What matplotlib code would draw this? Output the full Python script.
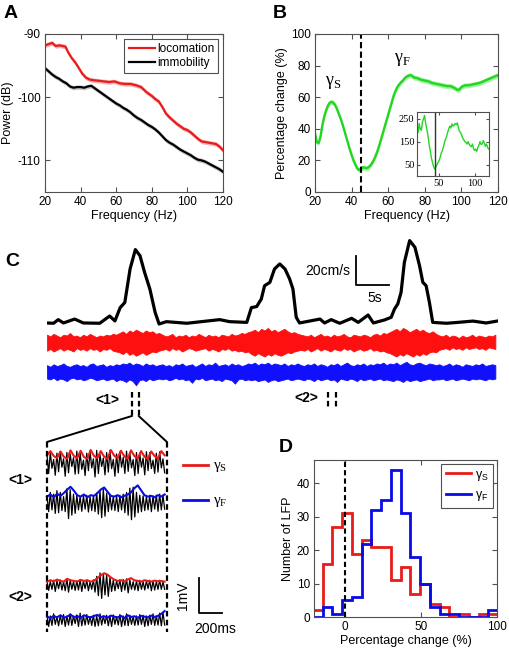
import numpy as np
import matplotlib
matplotlib.use('Agg')
import matplotlib.pyplot as plt
from matplotlib.patches import ConnectionPatch
from matplotlib.lines import Line2D

plt.rcParams['font.family'] = ['Liberation Sans', 'DejaVu Sans']
plt.rcParams['axes.unicode_minus'] = False

# ---------------- data ----------------
# Panel A
freqA_loco = [20, 22, 24, 26, 28, 30, 31.5, 33, 35, 37, 39, 41, 43, 45, 47, 50, 53, 56, 59, 62, 65, 68, 71, 74,
              77, 80, 82, 84, 86, 88, 90, 92, 94, 96, 98, 100, 102, 104, 106, 108, 110, 112, 114, 116, 118, 120]
loco_db = [-91.8, -91.6, -91.4, -91.9, -91.8, -91.9, -92.0, -92.9, -93.8, -94.5, -95.4, -96.3, -96.9, -97.2,
           -97.3, -97.4, -97.5, -97.6, -97.5, -97.8, -97.9, -97.9, -98.1, -98.4, -99.2, -99.8, -100.3, -100.7,
           -101.6, -102.6, -103.2, -103.7, -104.2, -104.6, -105.0, -105.2, -105.6, -106.1, -106.6, -107.0,
           -107.1, -107.2, -107.3, -107.4, -107.8, -108.4]
freqA_immo = [20, 22, 24, 26, 28, 30, 32, 34, 36, 38, 40, 42, 44, 46, 48, 50, 52, 54, 56, 58, 60, 62, 64, 66, 68,
              70, 72, 74, 76, 78, 80, 82, 84, 86, 88, 90, 92, 94, 96, 98, 100, 102, 104, 106, 108, 110, 112, 114,
              116, 118, 120]
immo_db = [-95.4, -95.9, -96.4, -96.8, -97.1, -97.5, -97.8, -98.3, -98.5, -98.4, -98.4, -98.5, -98.3, -98.2,
           -98.6, -99.0, -99.4, -99.8, -100.2, -100.6, -101.0, -101.3, -101.7, -102.0, -102.4, -102.9, -103.3,
           -103.6, -104.0, -104.4, -104.7, -105.1, -105.6, -106.2, -106.8, -107.2, -107.5, -107.9, -108.3,
           -108.6, -108.9, -109.2, -109.6, -109.9, -110.0, -110.2, -110.5, -110.8, -111.1, -111.4, -111.8]
sem_db = 0.35

# Panel B
freqB = [20, 21, 22, 23, 24, 25, 26, 27, 28, 29, 30, 31, 32, 33, 34, 35, 36, 37, 38, 39, 40, 41, 42, 43, 44, 45,
         46, 47, 48, 49, 50, 51, 52, 53, 54, 55, 56, 57, 58, 59, 60, 61, 62, 63, 64, 65, 66, 67, 68, 69, 70, 71,
         72, 73, 74, 76, 78, 80, 82, 84, 86, 88, 90, 92, 94, 96, 98, 99, 100, 102, 104, 106, 108, 110, 112, 114,
         116, 118, 120]
pctB = [37, 31.5, 31, 35, 42, 47.5, 51.5, 54.5, 56.5, 57, 56.5, 55, 52.5, 49.5, 46.5, 43, 39, 35, 31, 27, 23.5,
        20, 17.5, 15, 14, 14.5, 15.5, 15.5, 15, 15.5, 16.5, 18, 20, 22.5, 25.5, 29, 33, 37, 41, 45, 49, 53, 57,
        61, 64, 66.5, 68, 69.5, 70.5, 72, 73, 73.5, 74, 73.5, 72.5, 72, 71, 70.5, 70, 69, 68.5, 68, 67.5, 67, 67,
        66, 64.5, 65, 66.5, 67.5, 67.5, 68, 68.5, 69, 70, 71, 72, 73, 74]
sem_pct = 1.6
freq_inset = [20, 21.5, 23, 24.5, 26, 27.5, 29, 30.5, 31.5, 33, 34.5, 35.5, 37, 38.5, 40, 41.5, 43, 44.5, 46,
              47.5, 49, 50.5, 52, 53.5, 55, 56.5, 58, 59.5, 61, 62.5, 64, 65.5, 67, 68.5, 70, 71.5, 73, 74.5, 76,
              77.5, 79, 80.5, 82, 83.5, 85, 86.5, 88, 89.5, 91, 92.5, 94, 95.5, 97, 98.5, 100, 101.5, 103, 104.5,
              106, 107.5, 109, 110.5, 112, 113.5, 115, 116.5, 118, 119.5]
val_inset = [210, 190, 230, 205, 200, 235, 250, 265, 240, 215, 190, 170, 135, 110, 78, 60, 42, 30, 38, 48, 58,
             66, 80, 98, 110, 125, 145, 160, 172, 190, 205, 218, 210, 228, 218, 222, 230, 225, 232, 212, 195,
             190, 180, 165, 158, 150, 148, 140, 150, 138, 132, 128, 140, 120, 112, 118, 108, 125, 135, 150, 138,
             140, 155, 145, 130, 140, 125, 118]
boundary_hz = 45

# Panel C : running speed (cm/s) vs time (s)
t_speed = [0, 1.0, 1.7, 2.5, 4.2, 5.5, 8.0, 9.5, 10.3, 11.1, 11.8, 12.6, 13.4, 14.1, 14.8, 15.6, 16.4, 17.0,
           18.1, 21.2, 26.2, 27.7, 30.3, 31.0, 31.8, 32.5, 33.0, 33.8, 34.5, 35.3, 36.1, 36.8, 37.3, 37.8, 38.3,
           41.4, 42.1, 43.1, 44.4, 46.2, 47.2, 48.7, 49.5, 51.2, 52.2, 52.7, 53.2, 53.7, 54.2, 55.0, 55.8, 56.5,
           57.0, 57.5, 58.0, 58.5, 60.6, 62.3, 64.6, 66.6, 68.4]
v_speed = [0.7, 0.5, 3.0, 0.7, 3.4, 0.7, 0.5, 5.5, 2.1, 11.3, 14.8, 37.9, 51.3, 47.1, 35.6, 24.1, 8.0, 0.0,
           1.6, 0.5, 3.0, 1.6, 1.1, 11.3, 12.0, 17.2, 26.4, 28.7, 37.9, 41.4, 37.9, 31.0, 24.1, 4.6, 0.7,
           3.4, 0.7, 3.0, 0.5, 3.9, 1.1, 6.2, 0.7, 2.8, 4.6, 10.3, 13.8, 21.8, 42.5, 57.5, 52.9, 40.2,
           28.7, 26.4, 14.8, 1.1, 0.5, 1.1, 2.0, 0.7, 2.1]
lfp_dt = 0.5  # s between envelope samples
red_up = [9, 7, 10, 8, 6, 9, 8, 11, 7, 8, 6, 9, 7, 10, 8, 6, 8, 7, 9, 8, 10, 9,
          11, 13, 10, 14, 12, 15, 13, 11, 14, 12, 13, 10, 11,
          9, 7, 8, 10, 6, 8, 7, 9, 6, 8, 7, 10, 8, 6, 9, 7, 8, 6, 9, 8, 7, 10, 8, 9, 11, 10, 12,
          13, 15, 12, 16, 14, 17, 13, 15, 12, 14, 16, 13, 11, 12, 10,
          9, 8, 7, 9, 6, 8, 10, 7, 8, 6, 9, 7, 8, 10, 7, 6, 9, 8, 7, 9, 8, 6, 9, 10, 8, 11, 10,
          12, 14, 16, 13, 17, 15, 12, 14, 16, 13, 15, 12, 11, 13, 10,
          8, 7, 9, 6, 8, 7, 5, 8, 6, 7, 9, 6, 8, 7, 6, 8, 7, 9]
red_lo = [10, 8, 11, 9, 7, 10, 8, 9, 11, 7, 9, 8, 10, 7, 9, 8, 11, 8, 9, 7, 10, 11,
          12, 14, 11, 15, 13, 16, 14, 12, 15, 13, 11, 12, 10,
          9, 8, 10, 7, 9, 8, 11, 9, 7, 8, 10, 9, 8, 7, 10, 8, 9, 11, 8, 9, 7, 10, 9, 11, 10, 12, 11,
          14, 16, 13, 15, 17, 14, 16, 13, 15, 16, 14, 12, 13, 11, 10,
          9, 10, 8, 11, 9, 7, 10, 8, 9, 11, 8, 9, 10, 7, 9, 8, 11, 9, 8, 10, 9, 7, 10, 9, 11, 10, 12,
          13, 15, 17, 14, 16, 13, 15, 17, 14, 16, 13, 15, 12, 11, 12,
          9, 8, 7, 9, 6, 8, 7, 9, 6, 8, 7, 6, 8, 7, 9, 6, 7, 8]
blue_up = [8, 6, 9, 7, 8, 10, 7, 6, 8, 9, 7, 8, 6, 9, 10, 7, 8, 9, 6, 8, 7, 9,
           8, 10, 9, 11, 8, 10, 9, 7, 10, 8, 9, 7, 8,
           9, 7, 8, 6, 9, 8, 10, 7, 8, 9, 6, 8, 10, 7, 9, 8, 11, 7, 8, 9, 7, 10, 8, 9, 7, 8, 10,
           9, 11, 8, 10, 9, 11, 8, 10, 9, 8, 10, 7, 9, 8, 10,
           8, 7, 9, 8, 10, 7, 9, 8, 6, 9, 8, 10, 7, 9, 11, 8, 7, 9, 8, 10, 7, 9, 8, 10, 9, 11, 8,
           10, 9, 11, 8, 10, 12, 9, 8, 10, 11, 9, 8, 10, 9, 8,
           9, 7, 8, 10, 7, 9, 8, 6, 9, 8, 7, 9, 8, 10, 7, 8, 9, 8]
blue_lo = [8, 9, 7, 10, 8, 9, 11, 8, 7, 9, 8, 10, 9, 7, 8, 10, 9, 8, 10, 9, 8, 11,
           9, 10, 12, 9, 11, 16, 10, 9, 11, 8, 10, 9, 8,
           9, 8, 10, 9, 7, 9, 8, 10, 9, 13, 8, 9, 7, 10, 9, 8, 10, 9, 11, 8, 9, 10, 14, 9, 8, 10, 9,
           10, 9, 11, 10, 9, 12, 10, 9, 11, 10, 9, 8, 10, 9, 8,
           9, 10, 8, 9, 11, 8, 10, 9, 8, 10, 9, 12, 8, 9, 10, 8, 9, 11, 8, 10, 9, 8, 10, 9, 8, 10, 9,
           10, 11, 9, 10, 12, 9, 11, 10, 9, 11, 10, 9, 8, 10, 9,
           9, 8, 10, 9, 8, 10, 9, 8, 9, 10, 8, 9, 8, 9, 10, 8, 9, 8]
win1 = (12.9, 13.9)
win2 = (42.6, 43.9)

# Panel C (zoomed 1 s windows), mV
bS1 = [0.25, -0.30, 0.30, -0.15, 0.10, -0.35, 0.28, -0.25, 0.32, -0.12, 0.12, -0.38,
       0.30, -0.28, 0.26, -0.10, 0.15, -0.32, 0.34, -0.30, 0.30, -0.18, 0.08, -0.36,
       0.28, -0.22, 0.34, -0.14, 0.12, -0.40, 0.36, -0.30, 0.24, -0.10, 0.14, -0.34,
       0.30, -0.26, 0.36, -0.16, 0.10, -0.38, 0.26, -0.28, 0.32, -0.12, 0.16, -0.30,
       0.34, -0.24, 0.28, -0.14, 0.10, -0.36, 0.30, -0.30, 0.26, -0.12, 0.14, -0.34,
       0.32, -0.22, 0.30, -0.16, 0.08, -0.30, 0.28, -0.26, 0.32, -0.14, 0.12, -0.28]
eS1 = [0.22, 0.34, 0.20, 0.14, 0.33, 0.18, 0.12, 0.36, 0.20, 0.14, 0.35, 0.17, 0.12, 0.37, 0.20, 0.14, 0.34,
       0.18, 0.12, 0.37, 0.21, 0.14, 0.35, 0.19, 0.12, 0.36, 0.20, 0.13, 0.34, 0.18, 0.12, 0.33, 0.20, 0.13,
       0.34, 0.22]
bF1 = [0.20, -0.25, 0.30, -0.20, 0.25, -0.30, 0.35, -0.28, 0.30, -0.22, 0.18, -0.25,
       0.40, -0.45, 0.38, -0.35, 0.25, -0.30, 0.22, -0.20, 0.18, -0.24, 0.20, -0.18,
       0.22, -0.26, 0.18, -0.22, 0.20, -0.25, 0.28, -0.32, 0.35, -0.42, 0.40, -0.38,
       0.28, -0.25, 0.22, -0.20, 0.18, -0.22, 0.20, -0.25, 0.22, -0.20, 0.25, -0.28,
       0.30, -0.35, 0.42, -0.48, 0.45, -0.40, 0.30, -0.28, 0.22, -0.25, 0.20, -0.22,
       0.18, -0.20, 0.22, -0.25, 0.20, -0.18, 0.22, -0.24, 0.25, -0.20, 0.22, -0.18]
eF1 = [0.18, 0.24, 0.16, 0.26, 0.20, 0.28, 0.38, 0.46, 0.35, 0.22, 0.18, 0.24, 0.16, 0.22, 0.20, 0.28, 0.38,
       0.44, 0.32, 0.20, 0.18, 0.22, 0.16, 0.20, 0.24, 0.30, 0.42, 0.50, 0.36, 0.22, 0.18, 0.20, 0.16, 0.22,
       0.18, 0.24]
bS2 = [0.12, -0.15, 0.10, -0.12, 0.14, -0.18, 0.12, -0.10, 0.15, -0.14, 0.10, -0.16,
       0.18, -0.20, 0.15, -0.12, 0.10, -0.15, 0.12, -0.14, 0.16, -0.18, 0.12, -0.10,
       0.14, -0.16, 0.10, -0.12, 0.15, -0.20, 0.25, -0.30, 0.35, -0.38, 0.32, -0.28,
       0.30, -0.32, 0.22, -0.18, 0.14, -0.16, 0.12, -0.10, 0.15, -0.18, 0.16, -0.14,
       0.18, -0.22, 0.15, -0.12, 0.10, -0.14, 0.12, -0.16, 0.14, -0.12, 0.10, -0.14,
       0.12, -0.10, 0.14, -0.16, 0.12, -0.14, 0.10, -0.12, 0.14, -0.12, 0.10, -0.12]
eS2 = [0.10, 0.14, 0.11, 0.16, 0.12, 0.10, 0.18, 0.14, 0.12, 0.10, 0.15, 0.12, 0.14, 0.10, 0.13, 0.20, 0.28,
       0.34, 0.30, 0.22, 0.16, 0.12, 0.14, 0.10, 0.16, 0.20, 0.14, 0.12, 0.10, 0.14, 0.12, 0.10, 0.13, 0.11,
       0.12, 0.10]
bF2 = [0.15, -0.18, 0.12, -0.15, 0.18, -0.12, 0.10, -0.16, 0.14, -0.12, 0.16, -0.18,
       0.12, -0.14, 0.18, -0.15, 0.12, -0.10, 0.15, -0.18, 0.20, -0.16, 0.12, -0.14,
       0.16, -0.12, 0.10, -0.15, 0.14, -0.18, 0.12, -0.16, 0.18, -0.14, 0.12, -0.10,
       0.14, -0.16, 0.12, -0.18, 0.15, -0.12, 0.10, -0.14, 0.16, -0.18, 0.12, -0.15,
       0.18, -0.16, 0.14, -0.12, 0.10, -0.15, 0.12, -0.14, 0.16, -0.12, 0.14, -0.18,
       0.12, -0.16, 0.14, -0.12, 0.18, -0.15, 0.12, -0.14, 0.20, -0.16, 0.22, -0.14]
eF2 = [0.10, 0.06, 0.12, 0.08, 0.14, 0.07, 0.10, 0.16, 0.08, 0.12, 0.06, 0.14, 0.10, 0.08, 0.12, 0.15, 0.09,
       0.11, 0.07, 0.13, 0.10, 0.08, 0.12, 0.06, 0.14, 0.09, 0.11, 0.07, 0.12, 0.10, 0.08, 0.13, 0.09, 0.12,
       0.18, 0.26]
win_ms = 1040

# Panel D histogram
hist_edges = [-20.8, -14.4, -8.0, -1.6, 4.8, 11.2, 17.6, 24.0, 30.4, 36.8, 43.2, 49.6, 56.0, 62.4, 68.8,
              75.2, 81.6, 88.0, 94.4, 100.8]
cnt_slow = [2, 16, 27, 31, 19, 23, 21, 21, 11, 15, 7, 10, 4, 3, 0, 1, 0, 1, 1]
cnt_fast = [0, 3, 1, 5, 6, 22, 32, 35, 44, 31, 18, 10, 3, 1, 1, 0, 0, 0, 2]

# ---------------- figure ----------------
W, H = 510, 650
fig = plt.figure(figsize=(W / 100, H / 100), dpi=100)


def ax_px(l, t, r, b):
    return fig.add_axes([l / W, 1 - b / H, (r - l) / W, (b - t) / H])


def matlab(ax, size=8.5):
    for s in ax.spines.values():
        s.set_color('#505050')
        s.set_linewidth(0.8)
    ax.tick_params(direction='in', top=True, right=True, length=3.5, width=0.8,
                   color='#505050', labelsize=size, pad=3)


RED = '#e81c1c'
BLUE = '#0a0ae6'
GREEN = '#22d622'

# ---- A ----
axA = ax_px(45, 34, 223, 192)
la = np.array(loco_db)
ia = np.array(immo_db)
axA.fill_between(freqA_loco, la - sem_db, la + sem_db, color='#f7b0b0', lw=0)
axA.fill_between(freqA_immo, ia - sem_db, ia + sem_db, color='#c8c8c8', lw=0)
axA.plot(freqA_loco, loco_db, color=RED, lw=1.6, label='locomation')
axA.plot(freqA_immo, immo_db, color='black', lw=1.6, label='immobility')
axA.set_xlim(20, 120)
axA.set_ylim(-115, -90)
axA.set_xticks([20, 40, 60, 80, 100, 120])
axA.set_yticks([-110, -100, -90])
axA.set_xlabel('Frequency (Hz)', fontsize=9, labelpad=1)
axA.set_ylabel('Power (dB)', fontsize=9, labelpad=2)
matlab(axA)
legA = axA.legend(loc='upper right', fontsize=8.5, handlelength=2.2, handletextpad=0.2,
                  borderpad=0.35, labelspacing=0.2, fancybox=False, framealpha=1,
                  borderaxespad=0.4)
legA.get_frame().set_edgecolor('#505050')
legA.get_frame().set_linewidth(0.8)

# ---- B ----
axB = ax_px(315, 34, 498, 192)
pb = np.array(pctB)
axB.fill_between(freqB, pb - sem_pct, pb + sem_pct, color='#a6f2a6', lw=0)
axB.plot(freqB, pctB, color=GREEN, lw=1.7)
axB.axvline(boundary_hz, color='black', lw=1.5, ls=(0, (3, 1.6)))
axB.set_xlim(20, 120)
axB.set_ylim(0, 100)
axB.set_xticks([20, 40, 60, 80, 100, 120])
axB.set_yticks([0, 20, 40, 60, 80, 100])
axB.set_xlabel('Frequency (Hz)', fontsize=9, labelpad=1)
axB.set_ylabel('Percentage change (%)', fontsize=9, labelpad=2)
matlab(axB)
axB.text(29.8, 69, 'γ$_\\mathregular{S}$', fontsize=13, family='Liberation Serif',
         ha='center', va='center')
axB.text(67.5, 84, 'γ$_\\mathregular{F}$', fontsize=13, family='Liberation Serif',
         ha='center', va='center')

axI = ax_px(417, 112, 489, 176)
axI.plot(freq_inset, val_inset, color=GREEN, lw=1.0)
axI.axvline(boundary_hz, color='#333333', lw=1.0)
axI.set_xlim(20, 120)
axI.set_ylim(0, 280)
axI.set_xticks([50, 100])
axI.set_yticks([50, 150, 250])
matlab(axI, size=7.5)
axI.tick_params(length=2, pad=2)
for lab in axI.get_xticklabels() + axI.get_yticklabels():
    lab.set_family('Liberation Serif')

# ---- C ----
axC = ax_px(47, 230, 498, 420)
axC.set_xlim(0, 68.4)
axC.set_ylim(-66.2, 64.8)
axC.axis('off')
lfp_gain = 0.58
red_c, blue_c = -12.6, -33.0
t_lfp = np.arange(len(red_up)) * lfp_dt
axC.fill_between(t_lfp, red_c - lfp_gain * np.array(red_lo), red_c + lfp_gain * np.array(red_up),
                 color='#ff1010', lw=0.6, edgecolor='#ff1010')
axC.fill_between(t_lfp, blue_c - lfp_gain * np.array(blue_lo), blue_c + lfp_gain * np.array(blue_up),
                 color='#1010ff', lw=0.6, edgecolor='#1010ff')
axC.plot(t_speed, v_speed, color='black', lw=2.3, solid_joinstyle='round')
# scale bar 20 cm/s, 5 s
sb_t, sb_v = 46.8, 26.9
axC.plot([sb_t, sb_t, sb_t + 5], [sb_v + 20, sb_v, sb_v], color='black', lw=1.3)
axC.text(sb_t - 0.8, sb_v + 9.6, '20cm/s', ha='right', va='center', fontsize=10)
axC.text(sb_t + 2.9, sb_v - 9, '5s', ha='center', va='center', fontsize=10)
dash = (0, (2.5, 1.5))
for tt in win1:
    axC.plot([tt, tt], [-46.9, -63.4], color='black', lw=1.6, ls=dash)
for tt in win2:
    axC.plot([tt, tt], [-46.9, -57.2], color='black', lw=1.6, ls=dash)
axC.text(9.1, -52.4, '<1>', ha='center', va='center', fontsize=10, fontweight='bold')
axC.text(39.4, -51.0, '<2>', ha='center', va='center', fontsize=10, fontweight='bold')

# zoomed windows
axZ = ax_px(0, 415, 260, 650)
axZ.set_xlim(-407.3, 1846.7)
axZ.set_ylim(-5.343, 1.371)
axZ.axis('off')
offs = {'S1': 0.0, 'F1': -1.14, 'S2': -3.49, 'F2': -4.49}
for key, blk, env, col in [('S1', bS1, eS1, RED), ('F1', bF1, eF1, BLUE),
                           ('S2', bS2, eS2, RED), ('F2', bF2, eF2, BLUE)]:
    tb = np.linspace(0, 1020, len(blk))
    te = np.linspace(0, 1020, len(env))
    axZ.plot(tb, offs[key] + np.array(blk), color='black', lw=0.9)
    axZ.plot(te, offs[key] + np.array(env), color=col, lw=1.5)
for tt in (0, win_ms):
    axZ.plot([tt, tt], [0.6, -4.83], color='black', lw=1.6, ls=dash)
for tC, tZ in ((win1[0], 0), (win1[1], win_ms)):
    con = ConnectionPatch(xyA=(tC, -63.4), coordsA=axC.transData, xyB=(tZ, 0.6),
                          coordsB=axZ.transData, color='black', lw=1.4)
    fig.add_artist(con)
axZ.text(-234, -0.49, '<1>', ha='center', va='center', fontsize=10, fontweight='bold')
axZ.text(-234, -3.83, '<2>', ha='center', va='center', fontsize=10, fontweight='bold')
axZ.plot([1179, 1395], [-0.06, -0.06], color=RED, lw=2)
axZ.plot([1179, 1395], [-1.06, -1.06], color=BLUE, lw=2)
axZ.text(1440, -0.12, 'γ$_\\mathregular{S}$', fontsize=11, family='Liberation Serif',
         ha='left', va='center')
axZ.text(1440, -1.12, 'γ$_\\mathregular{F}$', fontsize=11, family='Liberation Serif',
         ha='left', va='center')
sz_t, sz_v = 1317, -4.286
axZ.plot([sz_t, sz_t, sz_t + 200], [sz_v + 1, sz_v, sz_v], color='black', lw=1.3)
axZ.text(1179, sz_v + 0.5, '1mV', rotation=90, ha='center', va='center', fontsize=10)
axZ.text(1456, -4.74, '200ms', ha='center', va='center', fontsize=10)

# ---- D ----
axD = ax_px(314, 460, 497, 617)
axD.stairs(cnt_slow, hist_edges, color=RED, lw=2.0, baseline=None)
axD.stairs(cnt_fast, hist_edges, color=BLUE, lw=2.0, baseline=None)
axD.plot([0, 0], [0, 47], color='black', lw=1.5, ls=(0, (2.5, 1.5)))
axD.set_xlim(-20, 100)
axD.set_ylim(0, 47)
axD.set_xticks([0, 50, 100])
axD.set_yticks([0, 10, 20, 30, 40])
axD.set_xlabel('Percentage change (%)', fontsize=9, labelpad=1)
axD.set_ylabel('Number of LFP', fontsize=9, labelpad=2)
matlab(axD)
hD = [Line2D([], [], color=RED, lw=2.0), Line2D([], [], color=BLUE, lw=2.0)]
legD = axD.legend(hD, ['γ$_\\mathregular{S}$', 'γ$_\\mathregular{F}$'], loc='upper right',
                  fontsize=9, handlelength=2.0, handletextpad=0.3, borderpad=0.4,
                  labelspacing=0.5, fancybox=False, framealpha=1, borderaxespad=0.3)
legD.get_frame().set_edgecolor('#505050')
legD.get_frame().set_linewidth(0.8)

# panel letters
for lab, x, y in (('A', 11, 14), ('B', 280, 14), ('C', 12, 262), ('D', 286, 447)):
    fig.text(x / W, 1 - y / H, lab, fontsize=14, fontweight='bold', ha='center', va='center')

fig.savefig('out.png', dpi=100)
